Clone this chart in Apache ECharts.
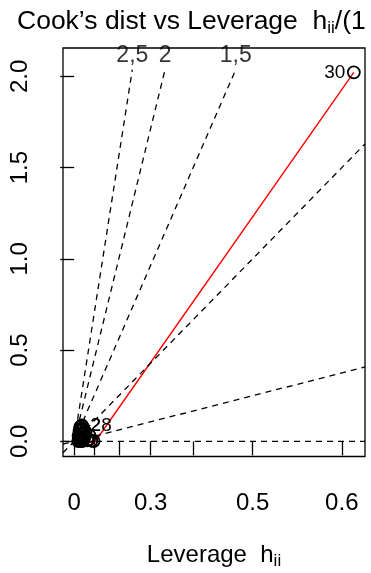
<!DOCTYPE html>
<html><head><meta charset="utf-8">
<script src="https://cdn.jsdelivr.net/npm/echarts@6/dist/echarts.min.js"></script>
<style>html,body{margin:0;padding:0;background:#fff}#c{width:371px;height:573px}</style>
</head><body><div id="c"></div>
<script>
// ---- data (leverage h_ii and Cook's distance per observation) ----
const obsId = [1,2,3,4,5,6,7,8,9,10,11,12,13,14,15,16,17,18,19,20,21,22,23,24,25,26,27,28,29,30];
const leverage = [0.035,0.041,0.028,0.052,0.033,0.045,0.038,0.026,0.075,0.031,0.047,0.022,0.055,0.036,0.043,0.029,0.080,0.024,0.050,0.039,0.088,0.034,0.044,0.027,0.068,0.032,0.098,0.043,0.060,0.6105];
const cooks    = [0.012,0.087,0.005,0.048,0.021,0.003,0.060,0.015,0.010,0.038,0.072,0.002,0.025,0.044,0.008,0.055,0.030,0.028,0.016,0.001,0.004,0.067,0.062,0.040,0.006,0.078,0.002,0.084,0.050,2.022];
const labeledIds = [2, 28, 30];
// lowess smooth (red)
const smoothLeverage = [0.005,0.0196,0.0476,0.0826,0.1047,0.6105];
const smoothCook     = [0.025,0.013,-0.001,-0.005,-0.002,2.022];
// contour values of standardized residual
const refB = [0,0.5,1,1.5,2,2.5];
const nCoef = 1;
// axis ticks
const xTickH  = [0,0.1,0.2,0.3,0.4,0.5,0.6];
const xLabelH = [0,0.3,0.5,0.6];
const yTicks  = [0,0.5,1,1.5,2];

const toG = h => h/(1-h);
const xMin = -0.0627, xMax = 1.630, yMin = -0.0829, yMax = 2.1555;
const lineTopY = 2.037;
const FONT = 'Liberation Sans, Arial, Helvetica, sans-serif';

const gVals = leverage.map(toG);
const gMid = (Math.min(...gVals)+Math.max(...gVals))/2;
const pts = gVals.map((g,i)=>{
  const id = obsId[i];
  const item = {value:[g, cooks[i]]};
  if (labeledIds.includes(id)) {
    item.label = {show:true, formatter:String(id), position: g>gMid?'left':'right', distance:1.5,
      fontSize:19, color:'#000', fontFamily:FONT};
  }
  return item;
});
const smooth = smoothLeverage.map((h,i)=>[toG(h), smoothCook[i]]);

const dash = {color:'#000', width:1.3, type:[6,5]};
const refSeries = [];
const topLabelData = [];
refB.forEach(b=>{
  const b2 = b*b;
  if (nCoef*yMax > b2*xMax) {
    refSeries.push({type:'line', data:[[xMin, b2*xMin], [xMax, b2*xMax]], symbol:'none',
      lineStyle:dash, silent:true, animation:false, z:3});
  } else {
    const xi = nCoef*lineTopY/b2;
    refSeries.push({type:'line', data:[[0,0],[xi,lineTopY]], symbol:'none',
      lineStyle:dash, silent:true, animation:false, z:3});
    topLabelData.push({value:[xi, lineTopY], name:String(b).replace('.', ',')});
  }
});

const chart = echarts.init(document.getElementById('c'), null, {renderer:'canvas'});
chart.setOption({
  animation:false,
  backgroundColor:'#fff',
  title:{
    text:'{m|Cook\u2019s dist vs Leverage  h}{s|ii}{m|/(1 - h}{s|ii}{m|)}',
    left:12, top:2,
    textStyle:{fontSize:26.5, fontWeight:'normal', color:'#000', fontFamily:FONT,
      rich:{m:{fontSize:26.5, fontFamily:FONT, color:'#000', lineHeight:30},
            s:{fontSize:17, verticalAlign:'bottom', lineHeight:22, fontFamily:FONT, color:'#000'}}}
  },
  grid:{left:63, right:6, top:48, bottom:116.5, outerBoundsMode:'none', containLabel:false,
    show:true, borderColor:'#000', borderWidth:1.3, backgroundColor:'transparent'},
  xAxis:{
    type:'value', min:xMin, max:xMax,
    axisLine:{show:false},
    axisTick:{show:true, customValues:xTickH.map(toG), length:14, lineStyle:{color:'#000', width:1.3}},
    axisLabel:{customValues:xLabelH.map(toG), margin:35, fontSize:24, color:'#000', fontFamily:FONT,
      formatter:v=>String(Math.round(v/(1+v)*10)/10)},
    splitLine:{show:false},
    name:'{m|Leverage  h}{s|ii}', nameLocation:'middle', nameGap:85,
    nameTextStyle:{fontSize:24, color:'#000', fontFamily:FONT,
      rich:{m:{fontSize:24, fontFamily:FONT, color:'#000', lineHeight:28},
            s:{fontSize:17, verticalAlign:'bottom', lineHeight:20, fontFamily:FONT, color:'#000'}}}
  },
  yAxis:{
    type:'value', min:yMin, max:yMax,
    axisLine:{show:false},
    axisTick:{show:true, customValues:yTicks, length:14, lineStyle:{color:'#000', width:1.3}},
    axisLabel:{customValues:yTicks, rotate:90, margin:31, fontSize:24, color:'#000', fontFamily:FONT,
      formatter:v=>v.toFixed(1)},
    splitLine:{show:false}
  },
  series:[
    {type:'scatter', data:pts, symbol:'circle', symbolSize:12,
      itemStyle:{color:'rgba(0,0,0,0)', borderColor:'#000', borderWidth:1.8, opacity:1}, z:2, silent:true},
    {type:'line', data:smooth, symbol:'none', lineStyle:{color:'#ff0000', width:1.4}, z:2, silent:true},
    ...refSeries,
    {type:'scatter', data:topLabelData, symbolSize:0, silent:true, z:4,
      label:{show:true, position:'top', distance:2, formatter:p=>p.name, fontSize:23, color:'#000', fontFamily:FONT}}
  ]
});
</script></body></html>
